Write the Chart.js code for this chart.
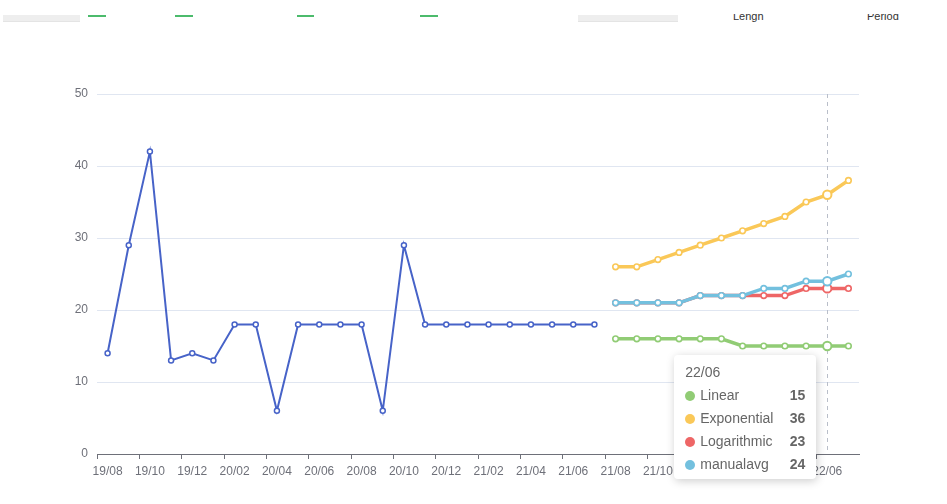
<!DOCTYPE html>
<html lang="en">
<head>
  <meta charset="UTF-8">
  <title>Forecast chart</title>
  <script src="https://cdn.jsdelivr.net/npm/chart.js"></script>
  <style>
    body { margin: 0; background: #fff; overflow: hidden; }
    .wrap { position: relative; width: 947px; height: 504px; }
    #chart { position: absolute; left: 0; top: 0; }
    /* the form above the chart, scrolled mostly out of view */
    .topbar { position: absolute; left: 0; top: 14px; width: 947px; height: 10px; overflow: hidden; }
    .topbar .box { position: absolute; top: 1px; height: 6px; background: #eeeeee; border-bottom: 1px solid #e4e4e4; }
    .topbar .tab { position: absolute; top: 1px; height: 2px; background: #4cbb6c; }
    .topbar .lbl { position: absolute; top: -3px; font: 11px Arial, sans-serif; line-height: 11px; color: #333; }
    #tip {
      position: absolute; display: none; box-sizing: border-box; width: 142px;
      background: #fff; border-radius: 4px; padding: 10px 11px 8px 11px;
      box-shadow: rgba(0,0,0,0.2) 1px 2px 10px;
      font: 14px "Helvetica Neue", Arial, sans-serif; color: #666; line-height: 14px;
    }
    #tip .row { margin-top: 9px; white-space: nowrap; }
    #tip .dot { display: inline-block; width: 10px; height: 10px; border-radius: 5px; margin-right: 5px; vertical-align: -1px; }
    #tip .val { float: right; font-weight: 900; color: #666; }
  </style>
</head>
<body>
  <div class="wrap">
    <div class="topbar">
      <div class="box" style="left:3px;width:77px"></div>
      <div class="tab" style="left:88px;width:18px"></div>
      <div class="tab" style="left:175px;width:18px"></div>
      <div class="tab" style="left:297px;width:17px"></div>
      <div class="tab" style="left:420px;width:18px"></div>
      <div class="box" style="left:578px;width:100px"></div>
      <span class="lbl" style="left:733px">Lengh</span>
      <span class="lbl" style="left:867px">Period</span>
    </div>
    <canvas id="chart" width="947" height="504"></canvas>
    <div id="tip"></div>
  </div>

  <script>
    // months on the x axis
    var labels = ['19/08', '19/09', '19/10', '19/11', '19/12', '20/01', '20/02', '20/03', '20/04', '20/05', '20/06', '20/07',
                  '20/08', '20/09', '20/10', '20/11', '20/12', '21/01', '21/02', '21/03', '21/04', '21/05', '21/06', '21/07',
                  '21/08', '21/09', '21/10', '21/11', '21/12', '22/01', '22/02', '22/03', '22/04', '22/05', '22/06', '22/07'];

    // history (19/08 - 21/07)
    var actual = [14, 29, 42, 13, 14, 13, 18, 18, 6, 18, 18, 18, 18, 6, 29, 18, 18, 18, 18, 18, 18, 18, 18, 18];

    // forecasts (21/08 - 22/07)
    var linear      = [16, 16, 16, 16, 16, 16, 15, 15, 15, 15, 15, 15];
    var exponential = [26, 26, 27, 28, 29, 30, 31, 32, 33, 35, 36, 38];
    var logarithmic = [21, 21, 21, 21, 22, 22, 22, 22, 22, 23, 23, 23];
    var manualavg   = [21, 21, 21, 21, 22, 22, 22, 23, 23, 24, 24, 25];

    var yMin = 0, yMax = 50, yStep = 10;
    var focusLabel = '22/06';

    function before(arr) { return Array(actual.length).fill(null).concat(arr); }
    function after(arr) { return arr.concat(Array(labels.length - arr.length).fill(null)); }

    function forecast(name, data, color, order) {
      return {
        label: name, data: before(data), order: order,
        borderColor: color, backgroundColor: color, borderWidth: 3.5,
        pointRadius: 2.8, pointBorderWidth: 1.6, pointBackgroundColor: '#fff', pointBorderColor: color,
        pointHoverRadius: 4.2, pointHoverBorderWidth: 2, pointHoverBackgroundColor: '#fff', pointHoverBorderColor: color,
        tension: 0
      };
    }

    var focusIndex = labels.indexOf(focusLabel);

    // dashed axis pointer at the focused month
    var pointerLine = {
      id: 'pointerLine',
      beforeDatasetsDraw: function (chart) {
        var c = chart.ctx, a = chart.chartArea;
        var x = Math.round(chart.scales.x.getPixelForValue(focusIndex)) + 0.5;
        c.save();
        c.strokeStyle = '#B9BEC9';
        c.lineWidth = 1;
        c.setLineDash([4, 4]);
        c.beginPath();
        c.moveTo(x, a.top);
        c.lineTo(x, a.bottom);
        c.stroke();
        c.restore();
      }
    };

    function drawTip(context) {
      var tip = document.getElementById('tip');
      var t = context.tooltip;
      if (t.opacity === 0 || !t.dataPoints || !t.dataPoints.length) { tip.style.display = 'none'; return; }
      var pts = t.dataPoints.slice().sort(function (p, q) { return p.datasetIndex - q.datasetIndex; });
      var html = '<div>' + pts[0].label + '</div>';
      pts.forEach(function (p) {
        html += '<div class="row"><span class="dot" style="background:' + p.dataset.borderColor + '"></span>' +
                p.dataset.label + '<span class="val">' + p.formattedValue + '</span></div>';
      });
      tip.innerHTML = html;
      tip.style.display = 'block';
      var ch = context.chart;
      var x = ch.scales.x.getPixelForValue(focusIndex);
      tip.style.left = (x - 11 - tip.offsetWidth) + 'px';
      tip.style.top = (ch.chartArea.top + 261) + 'px';
    }

    var ctx = document.getElementById('chart').getContext('2d');
    var chart = new Chart(ctx, {
      type: 'line',
      data: {
        labels: labels,
        datasets: [
          {
            label: 'actual', data: after(actual), order: 5,
            borderColor: '#4763c8', backgroundColor: '#4763c8', borderWidth: 2,
            pointRadius: 2.5, pointBorderWidth: 1.5, pointBackgroundColor: '#fff', pointBorderColor: '#4763c8',
            tension: 0
          },
          forecast('Linear', linear, '#91cc75', 4),
          forecast('Exponential', exponential, '#fac858', 3),
          forecast('Logarithmic', logarithmic, '#ee6666', 2),
          forecast('manualavg', manualavg, '#73c0de', 1)
        ]
      },
      options: {
        responsive: false,
        animation: false,
        events: [],
        layout: { padding: { top: 94, right: 88, left: 0, bottom: 0 } },
        plugins: {
          legend: { display: false },
          tooltip: { enabled: false, mode: 'index', intersect: false, external: drawTip }
        },
        scales: {
          x: {
            offset: true,
            afterFit: function (s) { s.height = 50; },
            grid: {
              offset: true, drawOnChartArea: false, drawTicks: true, tickLength: 5,
              color: function (c) { return c.index % 2 === 0 ? '#6E7079' : 'rgba(0,0,0,0)'; }
            },
            border: { display: true, color: '#6E7079', width: 1 },
            ticks: {
              autoSkip: false, maxRotation: 0, minRotation: 0, padding: 5,
              color: '#6E7079', font: { family: '"Helvetica Neue", Arial, sans-serif', size: 12 },
              callback: function (v, i) { return i % 2 === 0 ? labels[i] : ''; }
            }
          },
          y: {
            min: yMin, max: yMax,
            afterFit: function (s) { s.width = 97; },
            grid: {
              drawTicks: false,
              color: function (c) { return c.tick && c.tick.value === 0 ? 'rgba(0,0,0,0)' : '#E0E6F1'; }
            },
            border: { display: false },
            ticks: {
              stepSize: yStep, padding: 9,
              color: '#6E7079', font: { family: '"Helvetica Neue", Arial, sans-serif', size: 12 }
            }
          }
        }
      },
      plugins: [pointerLine]
    });

    // show the hover state at the focused month
    var active = [1, 2, 3, 4].map(function (d) { return { datasetIndex: d, index: focusIndex }; });
    chart.setActiveElements(active);
    chart.update();
    var px = chart.scales.x.getPixelForValue(focusIndex);
    chart.tooltip.setActiveElements(active, { x: px, y: chart.chartArea.top + 250 });
    chart.update();
  </script>
</body>
</html>
